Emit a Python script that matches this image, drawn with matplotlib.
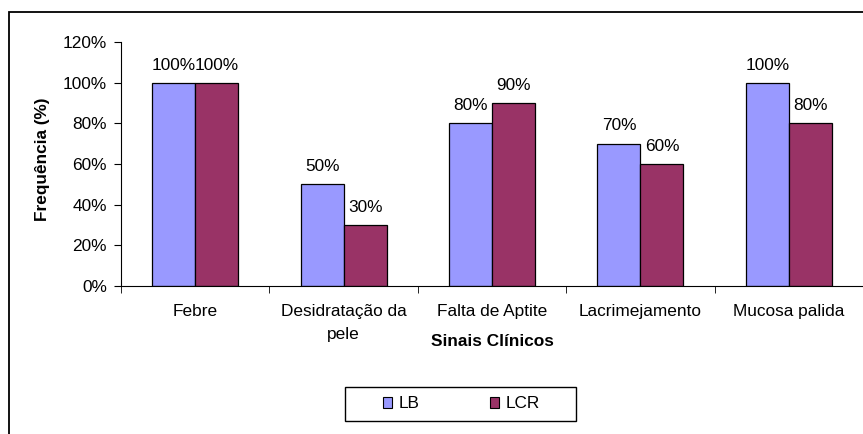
import matplotlib.pyplot as plt
from matplotlib.patches import Patch, Rectangle
import numpy as np

plt.rcParams['font.family'] = ['Liberation Sans', 'DejaVu Sans']

# Dados
categorias = ["Febre", "Desidratação da\npele", "Falta de Aptite", "Lacrimejamento", "Mucosa palida"]
lb = [1.00, 0.50, 0.80, 0.70, 1.00]
lcr = [1.00, 0.30, 0.90, 0.60, 0.80]
series = ["LB", "LCR"]
cores = ["#9999FF", "#993366"]

W, H = 863, 434
fs = 12.4
fig = plt.figure(figsize=(W / 100, H / 100), dpi=100)

# moldura do gráfico (cortada à direita e em baixo)
fig.patches.append(Rectangle((9 / W, -0.1), 1.2, 1 - 12 / H + 0.1, transform=fig.transFigure,
                             fill=False, edgecolor="black", linewidth=1.3))

ax = fig.add_axes([121 / W, 1 - 286 / H, (W - 121) / W, (286 - 42) / H])

x = np.arange(len(categorias))
larg = 0.29
for k, (vals, cor) in enumerate(zip([lb, lcr], cores)):
    pos = x + (k - 0.5) * larg
    ax.bar(pos, vals, width=larg, color=cor, edgecolor="black", linewidth=0.9)
    for p, v in zip(pos, vals):
        ax.text(p, v + 0.05, f"{v * 100:.0f}%", ha="center", va="bottom", fontsize=fs)

ax.set_xlim(-0.5, len(categorias) - 0.5)
ax.set_ylim(0, 1.2)
ax.set_yticks(np.arange(0, 1.21, 0.2))
ax.set_yticklabels([f"{t}%" for t in range(0, 121, 20)], fontsize=fs)
ax.set_xticks(x)
ax.set_xticklabels(categorias, fontsize=fs, linespacing=1.65)
ax.tick_params(axis="x", length=0, pad=13)
ax.set_xticks(np.arange(-0.5, len(categorias)), minor=True)
ax.tick_params(axis="x", which="minor", length=5, direction="out")
ax.tick_params(axis="y", length=5, direction="out", pad=5)

for s in ["top", "right"]:
    ax.spines[s].set_visible(False)
ax.spines["left"].set_linewidth(0.8)
ax.spines["bottom"].set_linewidth(0.8)

ax.set_ylabel("Frequência (%)", fontsize=fs, fontweight="bold")
ax.yaxis.set_label_coords((50 - 121) / (W - 121), 0.52)
fig.text(492 / W, 1 - 341 / H, "Sinais Clínicos", ha="center", va="center",
         fontsize=fs, fontweight="bold")

# legenda com caixa desenhada à parte
fig.patches.append(Rectangle((345 / W, 1 - 421 / H), 231 / W, 34 / H, transform=fig.transFigure,
                             fill=False, edgecolor="black", linewidth=1.0))
handles = [Patch(facecolor=c, edgecolor="black", linewidth=0.8) for c in cores]
fig.legend(handles, series, loc="center left", bbox_to_anchor=(383 / W, 1 - 404 / H),
           ncol=2, frameon=False, fontsize=fs, borderpad=0, borderaxespad=0,
           handlelength=0.55, handleheight=0.55, handletextpad=0.35, columnspacing=4.1)

fig.savefig("out.png", dpi=100)
